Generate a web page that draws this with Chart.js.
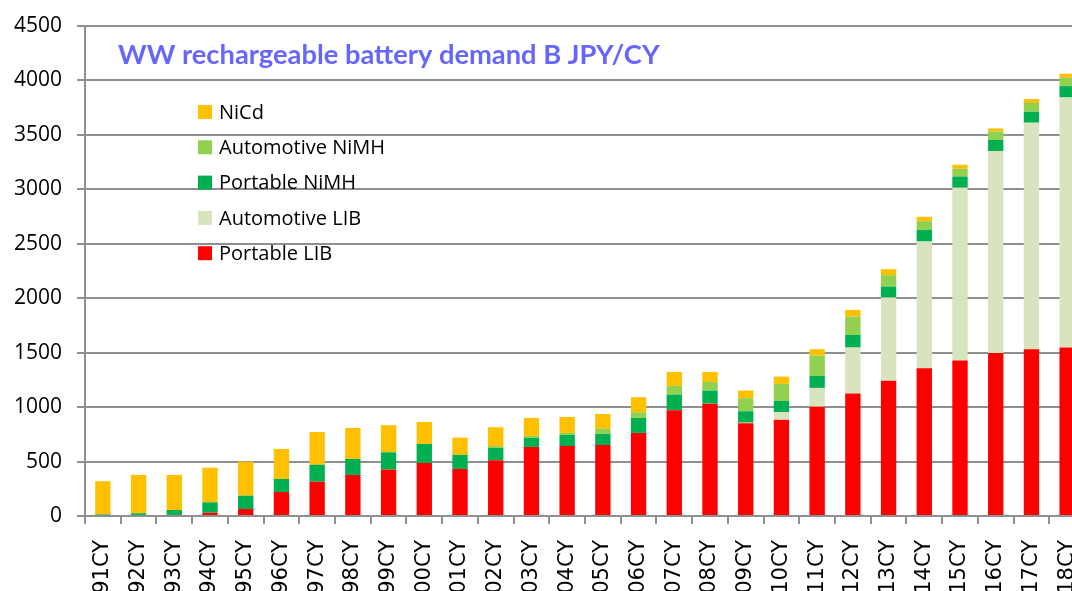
<!DOCTYPE html>
<html>
<head>
<meta charset="utf-8">
<script src="https://cdn.jsdelivr.net/npm/chart.js@4"></script>
<style>
  html, body { margin: 0; padding: 0; background: #fff; overflow: hidden; }
  #chart { display: block; }
</style>
</head>
<body>
<canvas id="chart" width="1086" height="591"></canvas>
<script>
const TITLE = "WW rechargeable battery demand B JPY/CY";

const YEARS = ["91CY", "92CY", "93CY", "94CY", "95CY", "96CY", "97CY", "98CY", "99CY", "00CY",
    "01CY", "02CY", "03CY", "04CY", "05CY", "06CY", "07CY", "08CY", "09CY", "10CY",
    "11CY", "12CY", "13CY", "14CY", "15CY", "16CY", "17CY", "18CY"];

const PORTABLE_LIB = [0, 0, 10, 30, 64, 220, 315, 377, 426, 487, 432, 512, 634, 643, 652, 763, 971, 1032, 852, 885,
    1004, 1124, 1241, 1357, 1427, 1498, 1532, 1547];
const AUTOMOTIVE_LIB = [0, 0, 0, 0, 0, 0, 0, 0, 0, 0, 0, 0, 0, 0, 0, 0, 0, 0, 5, 68,
    172, 423, 765, 1164, 1587, 1854, 2080, 2297];
const PORTABLE_NIMH = [15, 25, 45, 96, 123, 120, 156, 147, 159, 175, 129, 113, 83, 101, 102, 138, 144, 120, 105, 104,
    111, 116, 101, 107, 104, 103, 101, 104];
const AUTOMOTIVE_NIMH = [0, 0, 0, 0, 0, 0, 0, 0, 0, 0, 0, 18, 18, 19, 46, 52, 80, 79, 120, 156,
    186, 169, 105, 80, 71, 77, 80, 77];
const NICD = [305, 352, 322, 318, 312, 276, 301, 285, 249, 202, 159, 172, 166, 147, 137, 138, 128, 92, 70, 67,
    59, 61, 55, 40, 37, 27, 36, 37];

const GRID = "#8f8f8f";

function series(label, data, color) {
    return {
        label: label,
        data: data,
        backgroundColor: color,
        borderWidth: 0,
        categoryPercentage: 1,
        barPercentage: 0.43
    };
}

// title + legend drawn inside the plot, like the original
const overlay = {
    id: "overlay",
    afterDraw(chart) {
        const ctx = chart.ctx;
        ctx.save();
        ctx.font = "bold 27.3px Lato";
        ctx.fillStyle = "#6666ff";
        ctx.textBaseline = "alphabetic";
        ctx.textAlign = "left";
        ctx.fillText(TITLE, 118, 64);

        const items = chart.data.datasets.slice().reverse();
        ctx.font = "20px 'Open Sans'";
        ctx.textBaseline = "middle";
        for (let i = 0; i < items.length; i++) {
            const y = 112 + i * 35.3;
            ctx.fillStyle = items[i].backgroundColor;
            ctx.fillRect(198, y - 7, 14, 14);
            ctx.fillStyle = "#000";
            ctx.fillText(items[i].label, 219, y + 1);
        }
        ctx.restore();
    }
};

new Chart(document.getElementById("chart"), {
    type: "bar",
    data: {
        labels: YEARS,
        datasets: [
            series("Portable LIB", PORTABLE_LIB, "#ff0000"),
            series("Automotive LIB", AUTOMOTIVE_LIB, "#d7e4bd"),
            series("Portable NiMH", PORTABLE_NIMH, "#00b050"),
            series("Automotive NiMH", AUTOMOTIVE_NIMH, "#92d050"),
            series("NiCd", NICD, "#ffc000")
        ]
    },
    options: {
        responsive: false,
        animation: false,
        layout: { padding: { top: 26, right: 1, left: 0, bottom: 0 } },
        plugins: {
            legend: { display: false },
            title: { display: false },
            tooltip: { enabled: false }
        },
        scales: {
            x: {
                stacked: true,
                grid: { drawOnChartArea: false, drawTicks: true, tickLength: 8, color: GRID, lineWidth: 2 },
                border: { color: GRID, width: 2 },
                ticks: {
                    minRotation: 90, maxRotation: 90, autoSkip: false, padding: 16,
                    color: "#000", font: { family: "DejaVu Sans", size: 21 }
                },
                afterFit(scale) {
                    scale.height = 75;
                    scale.paddingLeft = 0;
                    scale.paddingRight = 0;
                }
            },
            y: {
                stacked: true,
                min: 0, max: 4500,
                ticks: {
                    stepSize: 500, padding: 15, color: "#000",
                    font: { family: "Open Sans", size: 21, weight: 500 },
                    callback: v => String(v)
                },
                grid: { color: GRID, lineWidth: 2, tickLength: 8 },
                border: { color: GRID, width: 2 },
                afterFit(scale) {
                    scale.width = 85;
                    scale.paddingTop = 0;
                    scale.paddingBottom = 0;
                }
            }
        }
    },
    plugins: [overlay]
});
</script>
</body>
</html>
